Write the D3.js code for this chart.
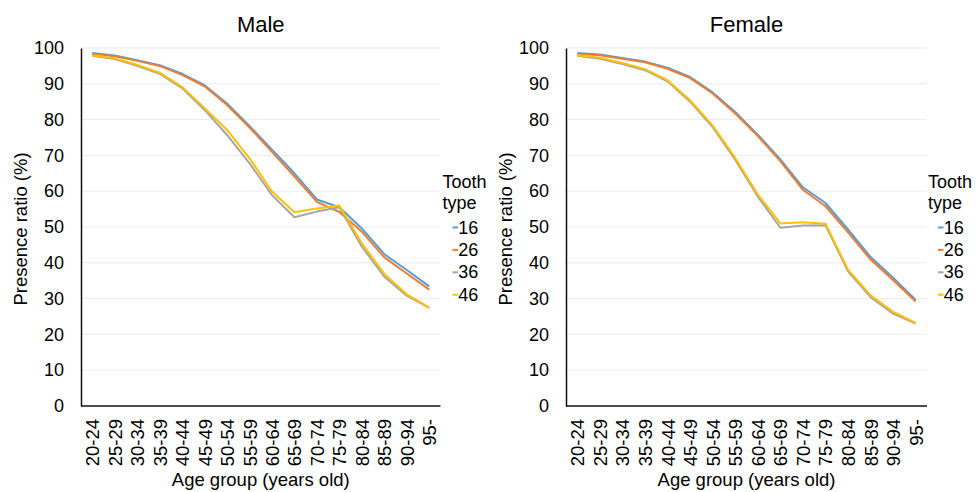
<!DOCTYPE html>
<html>
<head>
<meta charset="utf-8">
<script src="https://cdn.jsdelivr.net/npm/d3@7"></script>
<style>
  html, body { margin: 0; padding: 0; background: #fff; }
  svg { display: block; font-family: "Liberation Sans", Arial, sans-serif; }
</style>
</head>
<body>
<svg id="chart" width="976" height="492"></svg>
<script>
// Age groups on the x axis
const ageGroups = ["20-24", "25-29", "30-34", "35-39", "40-44", "45-49", "50-54", "55-59",
                   "60-64", "65-69", "70-74", "75-79", "80-84", "85-89", "90-94", "95-"];
const yTicks = [0, 10, 20, 30, 40, 50, 60, 70, 80, 90, 100];
const toothTypes = ["16", "26", "36", "46"];
const toothColors = ["#5B9BD5", "#ED7D31", "#A5A5A5", "#FFC000"];

// Presence ratio (%) by tooth type, male
const male16 = [98.6, 97.9, 96.6, 95.2, 92.8, 89.6, 84.5, 78.2, 71.6, 65.0, 57.7, 55.5, 49.6, 42.4, 38.0, 33.4];
const male26 = [98.4, 97.7, 96.4, 95.0, 92.5, 89.3, 84.1, 77.8, 71.0, 64.1, 57.0, 54.2, 48.7, 41.5, 37.0, 32.5];
const male36 = [97.8, 96.9, 95.0, 92.8, 88.8, 82.7, 75.7, 67.8, 58.9, 52.7, 54.3, 55.5, 44.5, 36.1, 30.8, 27.4];
const male46 = [98.0, 97.1, 95.3, 93.1, 89.1, 83.2, 77.1, 69.2, 59.9, 54.1, 55.2, 56.0, 45.4, 36.9, 31.2, 27.5];

// Presence ratio (%) by tooth type, female
const female16 = [98.6, 98.2, 97.2, 96.2, 94.5, 91.9, 87.6, 82.1, 75.8, 68.9, 61.1, 56.7, 49.3, 41.6, 35.8, 29.6];
const female26 = [98.4, 98.0, 97.0, 96.0, 94.2, 91.6, 87.3, 81.7, 75.4, 68.4, 60.4, 55.8, 48.5, 40.9, 35.1, 29.2];
const female36 = [97.8, 97.0, 95.5, 93.8, 90.7, 85.0, 77.9, 68.8, 58.5, 49.8, 50.4, 50.5, 37.6, 30.4, 25.8, 23.0];
const female46 = [98.0, 97.3, 95.8, 94.1, 91.0, 85.4, 78.3, 69.3, 59.1, 51.0, 51.3, 50.9, 38.1, 30.9, 26.3, 23.2];

const svg = d3.select("#chart");

function drawPanel(title, seriesList, left, right, legendX) {
  const top = 48, bottom = 406;
  const g = svg.append("g");

  const x = d3.scalePoint().domain(ageGroups).range([left, right]).padding(0.5);
  const y = d3.scaleLinear().domain([0, 100]).range([bottom, top]);

  // horizontal gridlines
  g.append("g").selectAll("line")
    .data(yTicks.filter(d => d > 0))
    .join("line")
    .attr("x1", left).attr("x2", right)
    .attr("y1", d => y(d)).attr("y2", d => y(d))
    .attr("stroke", "#ECECEC").attr("stroke-width", 1);

  // y axis
  const yAxis = g.append("g")
    .attr("transform", `translate(${left},0)`)
    .call(d3.axisLeft(y).tickValues(yTicks).tickSize(0).tickPadding(17));
  yAxis.select(".domain").attr("stroke", "#111").attr("stroke-width", 1.5);
  yAxis.selectAll("text").attr("font-size", 18).attr("fill", "#000")
    .attr("font-family", "Liberation Sans, Arial, sans-serif");

  // x axis
  const xAxis = g.append("g")
    .attr("transform", `translate(0,${bottom})`)
    .call(d3.axisBottom(x).tickSize(0).tickPadding(0));
  xAxis.select(".domain").attr("stroke", "#111").attr("stroke-width", 1.5)
    .attr("d", `M${left},0H${right}`);
  xAxis.selectAll("text")
    .attr("font-size", 18.5).attr("fill", "#000")
    .attr("font-family", "Liberation Sans, Arial, sans-serif")
    .attr("text-anchor", "end")
    .attr("transform", "rotate(-90)")
    .attr("x", -13).attr("y", 0).attr("dy", "0.35em");

  // lines
  const line = d3.line().x((d, i) => x(ageGroups[i])).y(d => y(d));
  seriesList.forEach((vals, k) => {
    g.append("path")
      .datum(vals)
      .attr("fill", "none")
      .attr("stroke", toothColors[k])
      .attr("stroke-width", 2)
      .attr("stroke-linejoin", "round")
      .attr("d", line);
  });

  // title
  g.append("text")
    .attr("x", (left + right) / 2).attr("y", 32)
    .attr("text-anchor", "middle").attr("font-size", 22).attr("fill", "#000")
    .text(title);

  // axis titles
  g.append("text")
    .attr("transform", `translate(${left - 54},${(top + bottom) / 2 + 2}) rotate(-90)`)
    .attr("text-anchor", "middle").attr("font-size", 18.5).attr("fill", "#000")
    .text("Presence ratio (%)");
  g.append("text")
    .attr("x", (left + right) / 2).attr("y", 486)
    .attr("text-anchor", "middle").attr("font-size", 18.5).attr("fill", "#000")
    .text("Age group (years old)");

  // legend
  const lg = g.append("g").attr("transform", `translate(${legendX},0)`);
  lg.append("text").attr("x", 0).attr("y", 188).attr("font-size", 18).attr("fill", "#000").text("Tooth");
  lg.append("text").attr("x", 0).attr("y", 209).attr("font-size", 18).attr("fill", "#000").text("type");
  toothTypes.forEach((t, k) => {
    const yy = 233.5 + k * 22.4;
    lg.append("line")
      .attr("x1", 10).attr("x2", 15.5)
      .attr("y1", yy - 6).attr("y2", yy - 6)
      .attr("stroke", toothColors[k]).attr("stroke-width", 2);
    lg.append("text").attr("x", 15.8).attr("y", yy)
      .attr("font-size", 18).attr("fill", "#000").text(t);
  });
}

drawPanel("Male", [male16, male26, male36, male46], 81, 440.5, 442.5);
drawPanel("Female", [female16, female26, female36, female46], 566, 927, 928);
</script>
</body>
</html>
